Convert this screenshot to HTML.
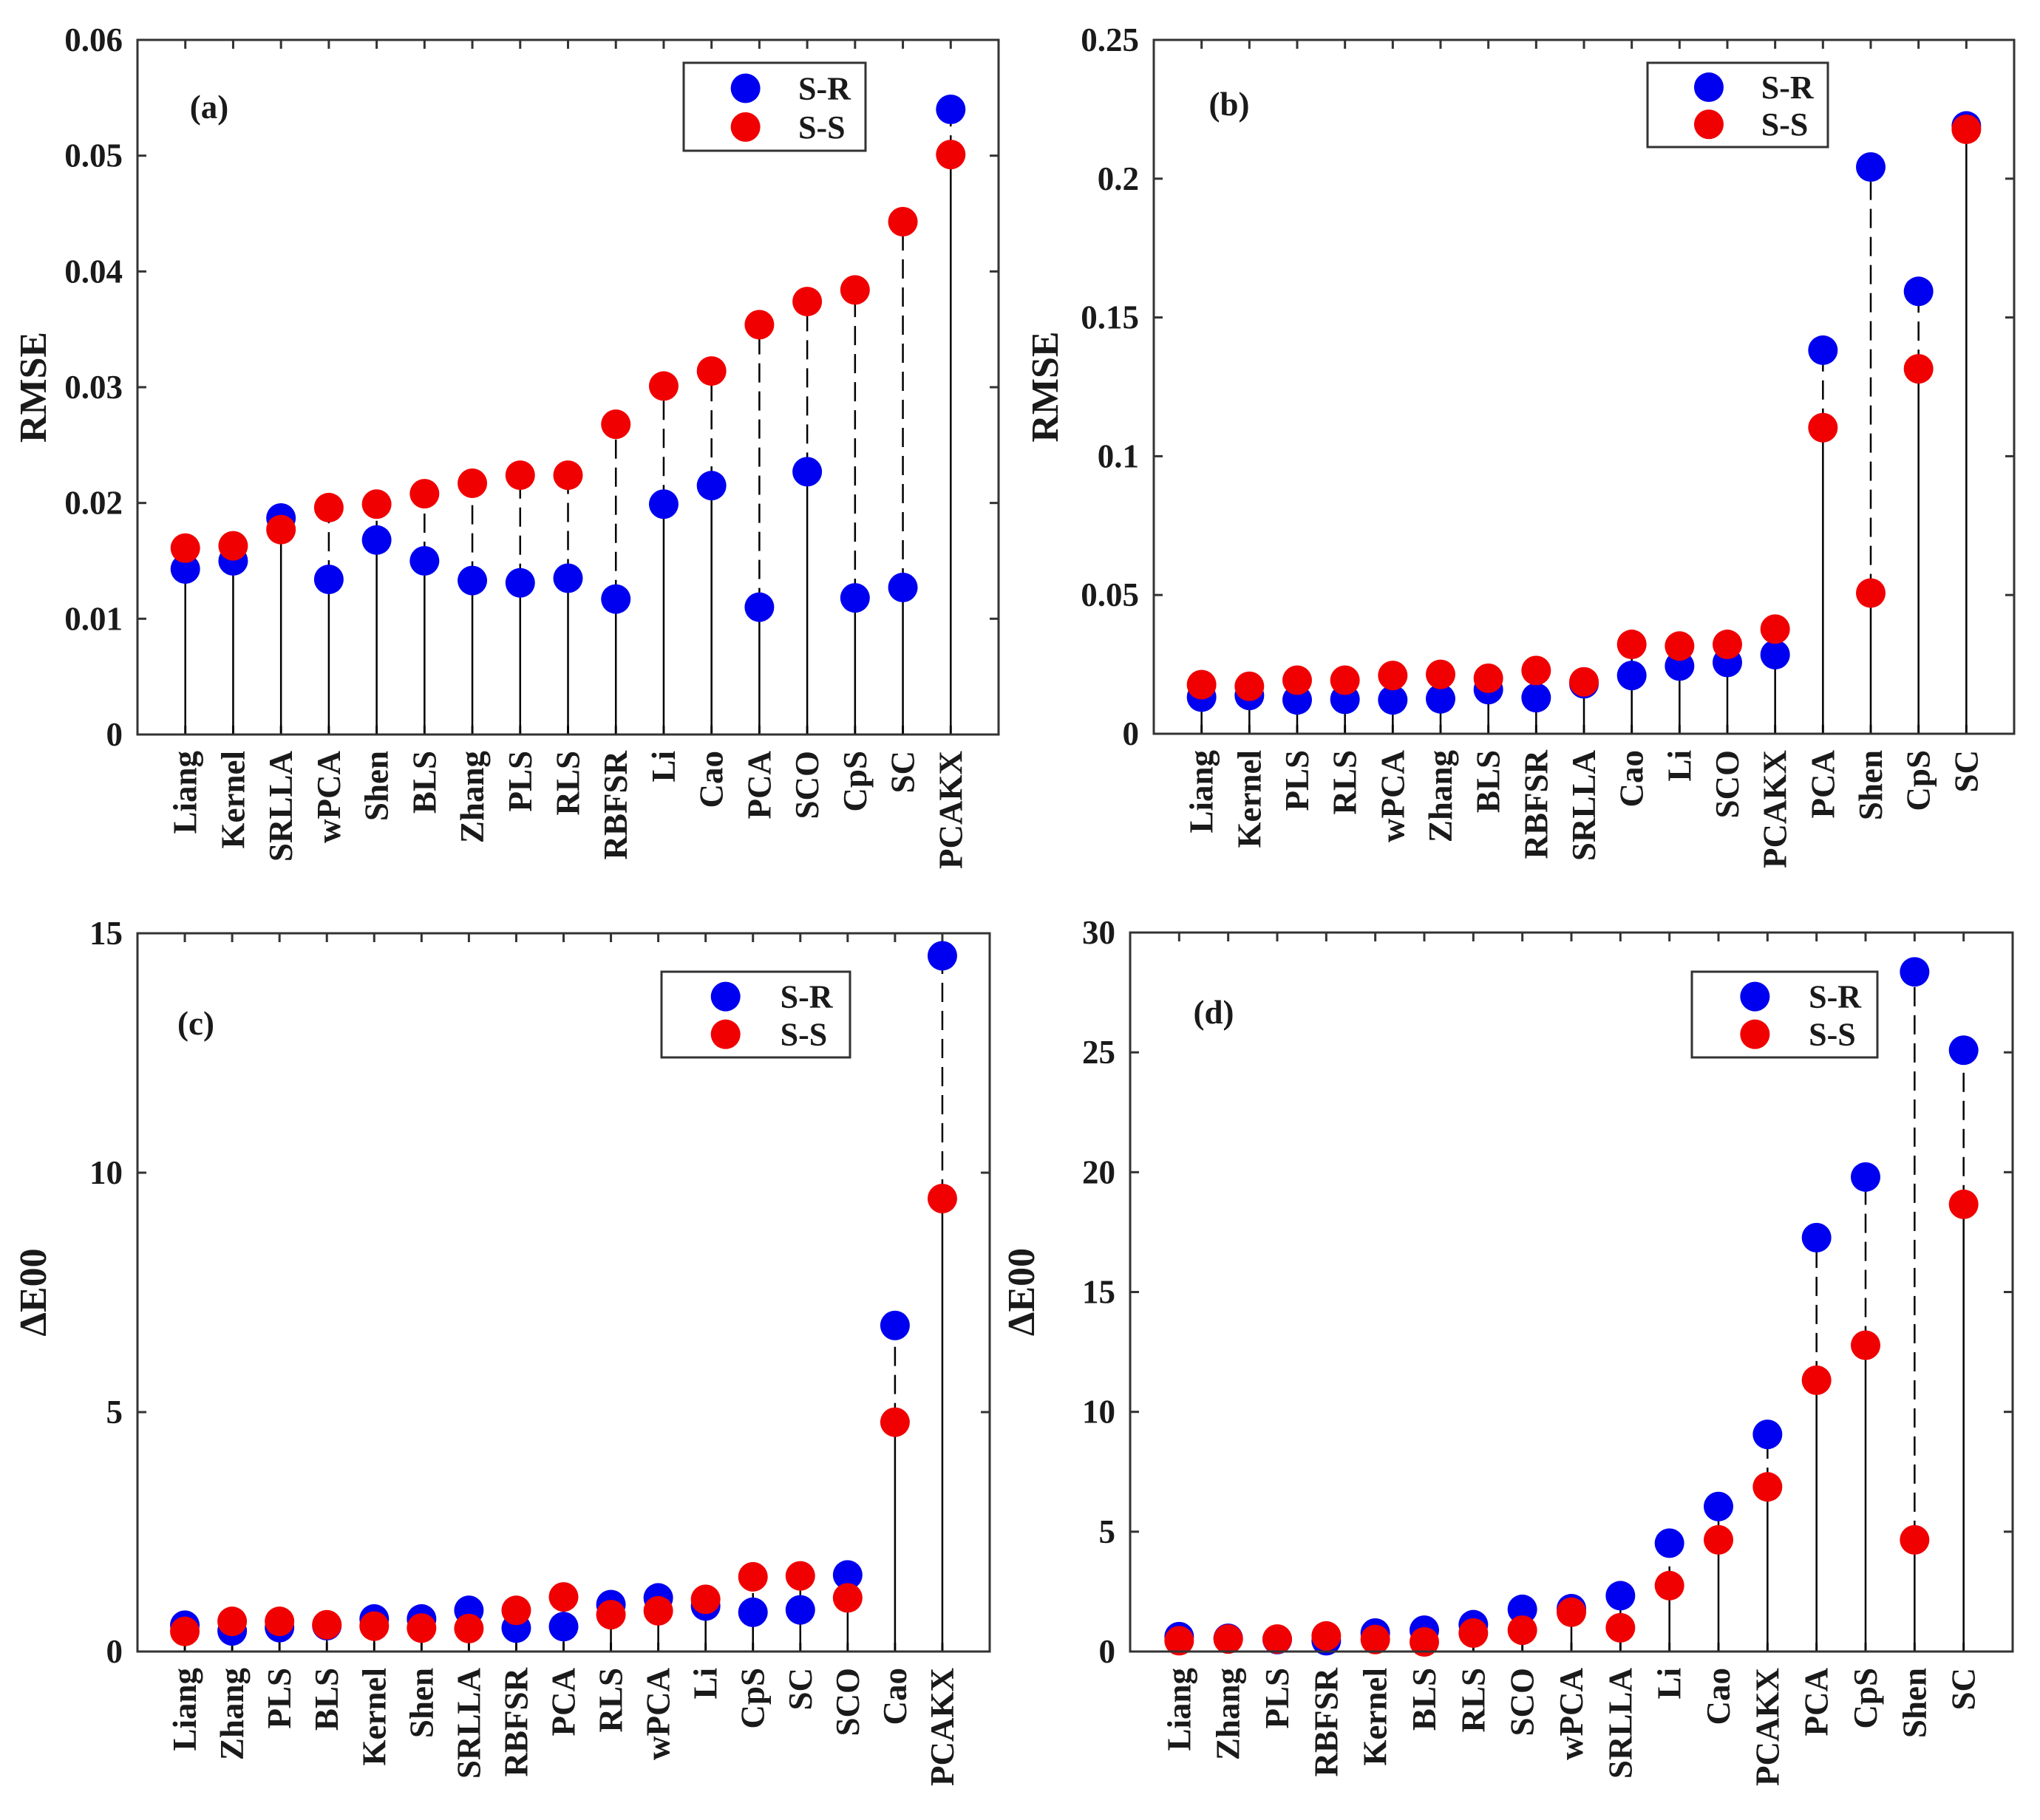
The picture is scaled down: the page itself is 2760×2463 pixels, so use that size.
<!DOCTYPE html>
<html><head><meta charset="utf-8">
<style>
html,body{margin:0;padding:0;background:#fff;}
svg{display:block;}
text{font-family:"Liberation Serif",serif;font-weight:bold;fill:#1a1a1a;}
</style></head>
<body>
<svg id="fig" width="2760" height="2463" viewBox="0 0 2760 2463" xmlns="http://www.w3.org/2000/svg"></svg>
<script>
// ---- data (a) RMSE ----
const catsA = ["Liang","Kernel","SRLLA","wPCA","Shen","BLS","Zhang","PLS","RLS","RBFSR","Li","Cao","PCA","SCO","CpS","SC","PCAKX"];
const srA = [0.0143,0.0150,0.0187,0.0134,0.0168,0.0150,0.0133,0.0131,0.0135,0.0117,0.0199,0.0215,0.0110,0.0227,0.0118,0.0127,0.0540];
const ssA = [0.0161,0.0163,0.0177,0.0196,0.0199,0.0208,0.0217,0.0224,0.0224,0.0268,0.0301,0.0314,0.0354,0.0374,0.0384,0.0443,0.0501];
const ticksA = ["0","0.01","0.02","0.03","0.04","0.05","0.06"];
// ---- data (b) RMSE ----
const catsB = ["Liang","Kernel","PLS","RLS","wPCA","Zhang","BLS","RBFSR","SRLLA","Cao","Li","SCO","PCAKX","PCA","Shen","CpS","SC"];
const srB = [0.0132,0.0138,0.0122,0.0124,0.0122,0.0126,0.0159,0.0130,0.0180,0.0210,0.0244,0.0257,0.0285,0.1382,0.2042,0.1594,0.2190];
const ssB = [0.0177,0.0171,0.0193,0.0193,0.0210,0.0214,0.0200,0.0228,0.0187,0.0322,0.0316,0.0322,0.0377,0.1103,0.0507,0.1315,0.2178];
const ticksB = ["0","0.05","0.1","0.15","0.2","0.25"];
// ---- data (c) dE00 ----
const catsC = ["Liang","Zhang","PLS","BLS","Kernel","Shen","SRLLA","RBFSR","PCA","RLS","wPCA","Li","CpS","SC","SCO","Cao","PCAKX"];
const srC = [0.55,0.43,0.50,0.54,0.68,0.68,0.86,0.49,0.52,0.98,1.12,0.95,0.82,0.87,1.60,6.81,14.53];
const ssC = [0.42,0.63,0.63,0.56,0.53,0.49,0.48,0.86,1.14,0.77,0.85,1.09,1.56,1.58,1.12,4.79,9.46];
const ticksC = ["0","5","10","15"];
// ---- data (d) dE00 ----
const catsD = ["Liang","Zhang","PLS","RBFSR","Kernel","BLS","RLS","SCO","wPCA","SRLLA","Li","Cao","PCAKX","PCA","CpS","Shen","SC"];
const srD = [0.62,0.55,0.50,0.45,0.77,0.89,1.12,1.76,1.79,2.33,4.52,6.05,9.06,17.27,19.80,28.36,25.09];
const ssD = [0.45,0.52,0.52,0.65,0.50,0.40,0.77,0.89,1.64,0.99,2.75,4.66,6.87,11.32,12.78,4.66,18.66];
const ticksD = ["0","5","10","15","20","25","30"];

const NS = "http://www.w3.org/2000/svg";
const fig = document.getElementById("fig");
function mk(tag, attrs, parent){
  const e = document.createElementNS(NS, tag);
  for (const k in attrs) e.setAttribute(k, attrs[k]);
  (parent||fig).appendChild(e);
  return e;
}

function panel(key, box, cats, sr, ss, ticks, ymax, ylab, tag, leg, tagPos){
  const g = mk("g", {});
  
  
  const [x0, y0, x1, y1] = box;
  const xs = i => x0 + (i + 1) * (x1 - x0) / 18;
  const ys = v => y1 - v / ymax * (y1 - y0);
  // ticks
  cats.forEach((c, i) => {
    const x = xs(i);
    const t1 = mk("line", {x1:x, x2:x, y1:y1, y2:y1-12, stroke:"#333", "stroke-width":3}, g);
    
    
    const t2 = mk("line", {x1:x, x2:x, y1:y0, y2:y0+12, stroke:"#333", "stroke-width":3}, g);
    
    
    const tx = mk("text", {x:0, y:0, "font-size":45, "text-anchor":"end", "dominant-baseline":"central",
      transform:`translate(${x},${y1+22}) rotate(-90)`}, g);
    tx.textContent = c;
    
    
  });
  ticks.forEach((t, i) => {
    const v = parseFloat(t);
    const y = ys(v);
    const a = mk("line", {x1:x0, x2:x0+12, y1:y, y2:y, stroke:"#333", "stroke-width":3}, g);
    
    
    const b = mk("line", {x1:x1, x2:x1-12, y1:y, y2:y, stroke:"#333", "stroke-width":3}, g);
    
    
    const tx = mk("text", {x:x0-20, y:y+15, "font-size":45, "text-anchor":"end"}, g);
    tx.textContent = t;
    
    
  });
  // stems
  cats.forEach((c, i) => {
    const x = xs(i);
    const lo = Math.min(sr[i], ss[i]), hi = Math.max(sr[i], ss[i]);
    const s1 = mk("line", {x1:x, x2:x, y1:y1, y2:ys(lo), stroke:"#000", "stroke-width":2.5}, g);
    
    
    const s2 = mk("line", {x1:x, x2:x, y1:ys(lo), y2:ys(hi), stroke:"#000", "stroke-width":2.5, "stroke-dasharray":"26 12"}, g);
    
    
  });
  cats.forEach((c, i) => {
    const m = mk("circle", {cx:xs(i), cy:ys(sr[i]), r:20, fill:"#0000f0"}, g);
    
    
  });
  cats.forEach((c, i) => {
    const m = mk("circle", {cx:xs(i), cy:ys(ss[i]), r:20, fill:"#f00000"}, g);
    
    
  });
  // axes box
  const r = mk("rect", {x:x0, y:y0, width:x1-x0, height:y1-y0, fill:"none", stroke:"#333", "stroke-width":3}, g);
  
  
  // y label
  const yl = mk("text", {x:0, y:0, "font-size":52, "text-anchor":"middle",
    transform:`translate(62,${(y0+y1)/2}) rotate(-90)`}, g);
  yl.textContent = ylab;
  
  
  if (key === "b" || key === "d") yl.setAttribute("transform", `translate(${x0-130},${(y0+y1)/2}) rotate(-90)`);
  // tag
  const tg = mk("text", {x:tagPos[0], y:tagPos[1], "font-size":45, "text-anchor":"middle"}, g);
  tg.textContent = tag;
  
  
  // legend
  const [lx, ly, lw, lh] = leg;
  const lb = mk("rect", {x:lx, y:ly, width:lw, height:lh, fill:"#fff", stroke:"#333", "stroke-width":3}, g);
  
  
  [["S-R","#0000f0"],["S-S","#f00000"]].forEach((e, k) => {
    const cy = ly + lh * (k === 0 ? 0.29 : 0.73);
    const c = mk("circle", {cx:lx + lw*0.34, cy:cy, r:20, fill:e[1]}, g);
    
    
    const t = mk("text", {x:lx + lw*0.63, y:cy+15, "font-size":44}, g);
    t.textContent = e[0];
    
    
  });
}

panel("a", [186,54,1351,994], catsA, srA, ssA, ticksA, 0.06, "RMSE", "(a)", [925,85,246,119], [283,160]);
panel("b", [1561,54,2725,993], catsB, srB, ssB, ticksB, 0.25, "RMSE", "(b)", [2229,85,244,114], [1663,156]);
panel("c", [186,1263,1339,2235], catsC, srC, ssC, ticksC, 15, "\u0394E00", "(c)", [895,1315,255,116], [265,1400]);
panel("d", [1529,1262,2723,2235], catsD, srD, ssD, ticksD, 30, "\u0394E00", "(d)", [2289,1315,251,116], [1642,1385]);
</script>
</body></html>
